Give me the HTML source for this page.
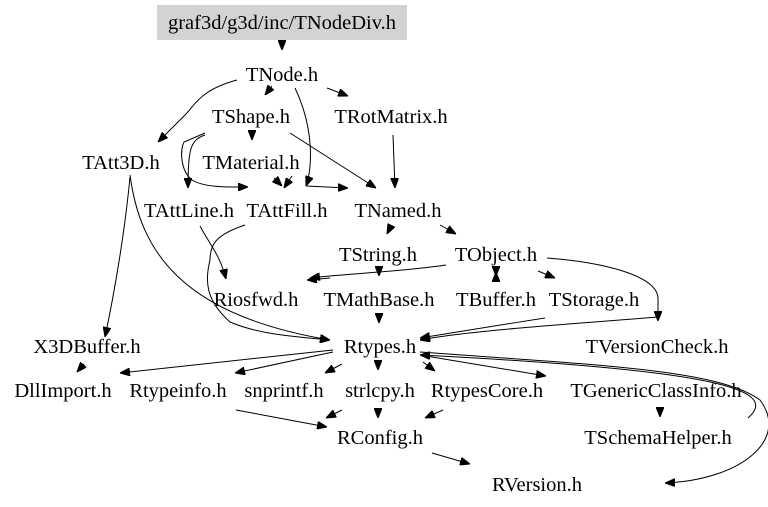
<!DOCTYPE html>
<html><head><style>
html,body{margin:0;padding:0;background:#fff;}
svg{display:block;}
text{font-family:"Liberation Serif",serif;font-size:20.5px;fill:#000;text-anchor:middle;}
path{fill:none;stroke:#000;stroke-width:1;}
</style></head><body>
<svg width="768" height="507" viewBox="0 0 768 507">
<defs><marker id="a" viewBox="0 0 10 8" refX="10" refY="4" markerWidth="10" markerHeight="8" markerUnits="userSpaceOnUse" orient="auto"><path d="M0,0L10,4L0,8z" style="fill:#000;stroke:#000"/></marker></defs>
<rect x="157" y="5" width="250" height="35" fill="#d3d3d3"/>
<text x="282" y="29">graf3d/g3d/inc/TNodeDiv.h</text>
<text x="282" y="81">TNode.h</text>
<text x="251" y="123">TShape.h</text>
<text x="391" y="123">TRotMatrix.h</text>
<text x="121" y="169">TAtt3D.h</text>
<text x="251" y="169">TMaterial.h</text>
<text x="189" y="217">TAttLine.h</text>
<text x="287" y="217">TAttFill.h</text>
<text x="398" y="217">TNamed.h</text>
<text x="378" y="261">TString.h</text>
<text x="496" y="261">TObject.h</text>
<text x="256" y="306">Riosfwd.h</text>
<text x="379" y="306">TMathBase.h</text>
<text x="496" y="306">TBuffer.h</text>
<text x="594" y="306">TStorage.h</text>
<text x="87" y="353">X3DBuffer.h</text>
<text x="380" y="353">Rtypes.h</text>
<text x="657" y="353">TVersionCheck.h</text>
<text x="63" y="397">DllImport.h</text>
<text x="178" y="397">Rtypeinfo.h</text>
<text x="284" y="397">snprintf.h</text>
<text x="380" y="397">strlcpy.h</text>
<text x="487" y="397">RtypesCore.h</text>
<text x="656" y="397">TGenericClassInfo.h</text>
<text x="380" y="444">RConfig.h</text>
<text x="658" y="444">TSchemaHelper.h</text>
<text x="537" y="491">RVersion.h</text>
<g marker-end="url(#a)">
<path d="M282,40L282,50"/>
<path d="M272,86L265,95"/>
<path d="M327,88L348,96"/>
<path d="M237,80C200,90 195,105 185,115L158,142"/>
<path d="M295,88C315,130 312,170 306,186"/>
<path d="M306,186L348,188"/>
<path d="M252,132L252,140"/>
<path d="M205,135C190,140 188,150 188,188"/>
<path d="M205,133L184,142C180,150 180,170 192,180C205,188 230,187 248,187"/>
<path d="M290,133L376,188"/>
<path d="M393,135L395,188"/>
<path d="M274,178L282,186"/>
<path d="M292,176L284,188"/>
<path d="M390,228L387,234"/>
<path d="M440,225L456,234"/>
<path d="M446,265C400,272 340,274 310,278"/>
<path d="M330,278L307,280"/>
<path d="M379,268L379,276"/>
<path d="M496,270L496,276"/>
<path d="M496,280L496,272"/>
<path d="M538,271L555,278"/>
<path d="M547,258C600,262 660,275 658,300L658,321"/>
<path d="M379,313L379,323"/>
<path d="M545,318C500,325 450,333 420,338"/>
<path d="M658,317C600,322 470,330 420,340"/>
<path d="M130,177C125,230 115,290 105,337"/>
<path d="M130,175C140,250 180,315 330,340"/>
<path d="M200,226C210,245 220,255 226,279"/>
<path d="M245,225C215,235 210,245 210,260C205,280 205,300 230,322C260,335 300,337 330,340"/>
<path d="M333,350L120,373"/>
<path d="M333,352L235,373"/>
<path d="M342,364L325,373"/>
<path d="M378,360L378,370"/>
<path d="M423,362L435,371"/>
<path d="M420,355L546,376"/>
<path d="M420,352C600,365 720,370 760,400C790,440 740,480 665,483"/>
<path d="M748,418C780,390 720,370 420,355"/>
<path d="M342,410L326,418"/>
<path d="M378,408L378,418"/>
<path d="M443,410L425,418"/>
<path d="M236,410L327,427"/>
<path d="M660,407L660,417"/>
<path d="M432,453L470,464"/>
<path d="M84,364L77,372"/>
</g>
</svg>
</body></html>
